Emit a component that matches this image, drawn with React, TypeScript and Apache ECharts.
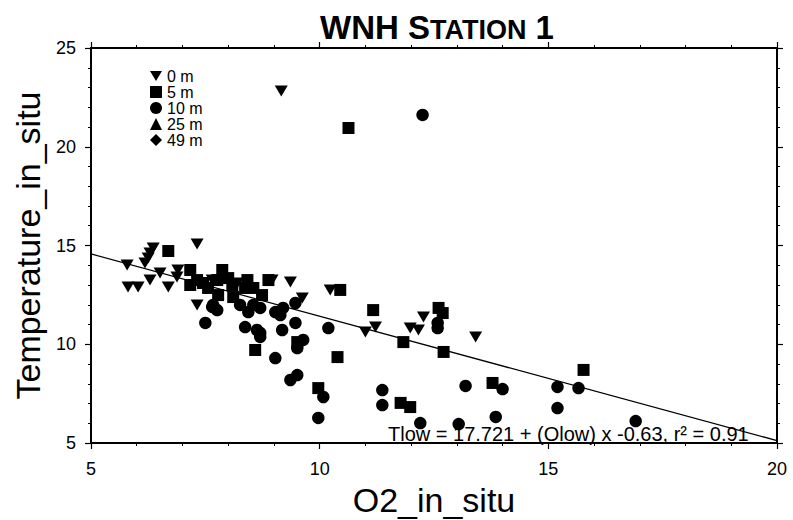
import React, { useEffect, useRef } from "react";
import * as echarts from "echarts";

const depthLabels = ["0 m", "5 m", "10 m", "25 m", "49 m"];

// [O2_in_situ, Temperature_in_situ]
const depth0m: number[][] = [
  [9.16, 22.82], [7.32, 15.08], [6.36, 14.87], [6.29, 14.62], [6.25, 14.37],
  [6.18, 14.11], [5.79, 14.01], [5.81, 12.9], [6.03, 12.9], [6.29, 13.25],
  [6.51, 13.61], [6.69, 12.9], [6.9, 13.76], [7.32, 11.99], [8.96, 13.25],
  [9.36, 13.15], [10.23, 12.75], [9.62, 12.34], [11.0, 10.62], [11.22, 10.87],
  [11.98, 10.82], [12.16, 10.72], [12.27, 11.38], [13.41, 10.37], [7.65, 13.25],
  [8.2, 13.1], [6.88, 13.4],
];
const depth5m: number[][] = [
  [10.63, 20.95], [6.69, 14.72], [7.17, 13.76], [7.32, 13.25], [7.17, 13.0],
  [7.87, 13.76], [7.76, 13.25], [8.0, 13.35], [8.09, 13.0], [7.56, 12.85],
  [8.42, 13.25], [8.37, 12.85], [8.55, 12.85], [8.88, 13.25], [8.74, 12.49],
  [8.11, 12.39], [7.78, 12.49], [7.45, 13.1], [10.45, 12.75], [8.59, 9.71],
  [10.39, 9.35], [9.97, 7.78], [11.17, 11.73], [11.83, 10.11], [12.6, 11.84],
  [12.69, 11.58], [12.71, 9.61], [11.77, 7.03], [11.98, 6.82], [13.78, 8.04],
  [15.77, 8.7], [9.51, 10.11],
];
const depth10m: number[][] = [
  [12.25, 21.61], [7.5, 11.08], [7.65, 11.89], [7.76, 11.73], [7.67, 11.99],
  [8.26, 11.99], [8.44, 11.63], [8.55, 11.99], [8.7, 11.84], [9.03, 11.63],
  [9.2, 11.84], [9.47, 12.09], [9.14, 11.48], [8.37, 10.87], [8.7, 10.57],
  [9.18, 10.72], [9.47, 11.08], [9.03, 9.3], [9.51, 9.81], [10.19, 10.82],
  [9.36, 8.19], [9.51, 8.44], [10.08, 7.33], [9.97, 6.27], [11.37, 7.68],
  [11.37, 6.92], [12.2, 6.01], [13.04, 5.96], [13.19, 7.89], [14.0, 7.73],
  [13.85, 6.32], [12.58, 11.08], [12.58, 10.82], [15.2, 7.84], [15.2, 6.77],
  [15.66, 7.78], [16.91, 6.11], [8.63, 10.72], [8.7, 10.37], [9.64, 10.22],
];
const depth25m: number[][] = [];
const depth49m: number[][] = [];

const fitO2 = [5, 20];
const fitTemp = [14.571, 5.121];

const xMin = 5, xMax = 20, xStep = 5;
const yMin = 5, yMax = 25, yStep = 5;

const FONT = "Liberation Sans, Arial, Helvetica, sans-serif";
const DOWN_TRI = "path://M0,0L12,0L6,10Z";

export default function App() {
  const ref = useRef<HTMLDivElement>(null);
  useEffect(() => {
    if (!ref.current) return;
    const chart = echarts.init(ref.current, undefined, { renderer: "svg" });
    const axisCommon = {
      axisLine: { show: true, onZero: false, lineStyle: { color: "#000", width: 2 } },
      axisTick: { show: true, inside: false, length: 6, lineStyle: { color: "#000", width: 1.2 } },
      minorTick: { show: true, splitNumber: 5, length: 3, lineStyle: { color: "#000", width: 1 } },
      splitLine: { show: false },
      minorSplitLine: { show: false },
    };
    const labelStyle = { color: "#000", fontSize: 18, fontFamily: FONT };
    const markerStyle = { color: "#000", opacity: 1 };
    chart.setOption({
      animation: false,
      backgroundColor: "#fff",
      grid: {
        left: 91, top: 48, width: 686, height: 395,
        containLabel: false, outerBoundsMode: "none",
      },
      graphic: [
        {
          type: "text",
          x: 437,
          y: 27,
          style: {
            text: "{b|WNH S}{s|TATION}{b| 1}",
            align: "center",
            verticalAlign: "middle",
            fill: "#000",
            rich: {
              b: { fontSize: 33, fontWeight: "bold", fontFamily: FONT, fill: "#000", lineHeight: 34, verticalAlign: "bottom" },
              s: { fontSize: 27, fontWeight: "bold", fontFamily: FONT, fill: "#000", lineHeight: 34, verticalAlign: "bottom", padding: [0, 0, 1, 0] },
            },
          },
        },
        {
          type: "text",
          x: 388,
          y: 434,
          z: 10,
          style: {
            text: "Tlow = 17.721 + (Olow) x -0.63, r² = 0.91",
            fontSize: 20,
            fontFamily: FONT,
            fill: "#000",
            align: "left",
            verticalAlign: "middle",
          },
        },
      ],
      legend: {
        orient: "vertical",
        left: 145,
        top: 63,
        itemWidth: 12,
        itemHeight: 12,
        itemGap: 0,
        textStyle: { color: "#000", fontSize: 16, fontFamily: FONT },
        data: [
          { name: depthLabels[0], icon: DOWN_TRI },
          { name: depthLabels[1], icon: "rect" },
          { name: depthLabels[2], icon: "circle" },
          { name: depthLabels[3], icon: "triangle" },
          { name: depthLabels[4], icon: "diamond" },
        ],
      },
      xAxis: [
        {
          type: "value",
          position: "bottom",
          min: xMin,
          max: xMax,
          interval: xStep,
          ...axisCommon,
          axisLabel: { ...labelStyle, margin: 17 },
          name: "O2_in_situ",
          nameLocation: "middle",
          nameGap: 40,
          nameTextStyle: { color: "#000", fontSize: 34, fontFamily: FONT },
        },
        {
          type: "value",
          position: "top",
          min: xMin,
          max: xMax,
          interval: xStep,
          ...axisCommon,
          axisLabel: { show: false },
        },
      ],
      yAxis: [
        {
          type: "value",
          position: "left",
          min: yMin,
          max: yMax,
          interval: yStep,
          ...axisCommon,
          axisLabel: { ...labelStyle, margin: 15 },
          name: "Temperature_in_situ",
          nameLocation: "middle",
          nameGap: 46,
          nameTextStyle: { color: "#000", fontSize: 34, fontFamily: FONT },
        },
        {
          type: "value",
          position: "right",
          min: yMin,
          max: yMax,
          interval: yStep,
          ...axisCommon,
          axisLabel: { show: false },
        },
      ],
      series: [
        {
          name: "fit",
          type: "line",
          data: fitO2.map((x, i) => [x, fitTemp[i]]),
          showSymbol: false,
          symbol: "none",
          lineStyle: { color: "#000", width: 1.3 },
          z: 1,
          silent: true,
        },
        {
          name: depthLabels[0],
          type: "scatter",
          data: depth0m,
          symbol: DOWN_TRI,
          symbolSize: [13, 11],
          itemStyle: markerStyle,
        },
        {
          name: depthLabels[1],
          type: "scatter",
          data: depth5m,
          symbol: "rect",
          symbolSize: 12,
          itemStyle: markerStyle,
        },
        {
          name: depthLabels[2],
          type: "scatter",
          data: depth10m,
          symbol: "circle",
          symbolSize: 12.5,
          itemStyle: markerStyle,
        },
        {
          name: depthLabels[3],
          type: "scatter",
          data: depth25m,
          symbol: "triangle",
          symbolSize: 12,
          itemStyle: markerStyle,
        },
        {
          name: depthLabels[4],
          type: "scatter",
          data: depth49m,
          symbol: "diamond",
          symbolSize: 14,
          itemStyle: markerStyle,
        },
      ],
    });
    return () => chart.dispose();
  }, []);
  return <div ref={ref} style={{ width: 793, height: 520, position: "absolute", left: 0, top: 0 }} />;
}
